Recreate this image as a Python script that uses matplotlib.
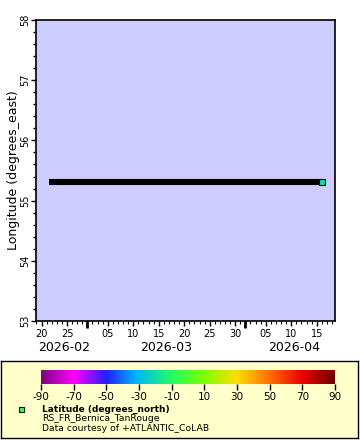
import matplotlib
matplotlib.use("Agg")
import matplotlib.pyplot as plt
import matplotlib.dates as mdates
import numpy as np
import pandas as pd
from matplotlib.colors import LinearSegmentedColormap, Normalize
from matplotlib.patches import Rectangle

plt.rcParams["axes.unicode_minus"] = False

# ---- data ----
track_times = pd.to_datetime(["2026-02-21 10:00", "2026-04-16 00:00"])
track_lon = [55.31, 55.31]
last_time = pd.to_datetime("2026-04-16 00:00")
last_lon = 55.31
last_lat = -21.0

xlim = pd.to_datetime(["2026-02-18 22:00", "2026-04-18 14:00"])
ylim = (53, 58)
month_labels = ["2026-02", "2026-03", "2026-04"]
month_label_pos = pd.to_datetime(["2026-02-24 12:00", "2026-03-16 12:00", "2026-04-10 12:00"])
cbar_ticks = [-90, -70, -50, -30, -10, 10, 30, 50, 70, 90]

cmap_stops = [(-90, "#800080"), (-70, "#ff00ff"), (-50, "#2020ff"), (-32, "#00b4ff"),
              (-10, "#20ff60"), (10, "#80ff00"), (30, "#ffdd00"), (50, "#ff7000"),
              (70, "#ee0000"), (90, "#700000")]

cmap = LinearSegmentedColormap.from_list(
    "lat", [((v + 90) / 180, c) for v, c in cmap_stops])
norm = Normalize(-90, 90)

W, H = 360, 440
fig = plt.figure(figsize=(W / 100, H / 100), dpi=100)
fig.patch.set_facecolor("white")

def fr(x0, y0, x1, y1):
    return [x0 / W, 1 - y1 / H, (x1 - x0) / W, (y1 - y0) / H]

ax = fig.add_axes(fr(36, 20, 335, 321))
ax.set_facecolor("#ccccff")
ax.plot(track_times, track_lon, color="black", lw=4.4, solid_capstyle="butt", zorder=2)
ax.plot([last_time], [last_lon], marker="s", ms=4.5, mec="black", mew=0.8,
        color=cmap(norm(last_lat)), ls="none", zorder=3)
ax.set_xlim(xlim)
ax.set_ylim(*ylim)

for s in ax.spines.values():
    s.set_linewidth(1.2)

# y ticks
ax.set_yticks(np.arange(53, 58.01, 1))
ax.yaxis.set_minor_locator(matplotlib.ticker.MultipleLocator(0.2))
ax.tick_params(axis="y", which="major", length=3.5, width=1, labelsize=7, pad=0.5)
ax.tick_params(axis="y", which="minor", length=2.5, width=1)
for lab in ax.get_yticklabels():
    lab.set_rotation(90)
    lab.set_va("center")
ax.set_ylabel("Longitude (degrees_east)", fontsize=9, labelpad=0)

# x ticks
ax.xaxis.set_major_locator(mdates.DayLocator(bymonthday=[5, 10, 15, 20, 25, 30]))
ax.xaxis.set_major_formatter(mdates.DateFormatter("%d"))
ax.xaxis.set_minor_locator(mdates.DayLocator())
ax.tick_params(axis="x", which="major", length=3.5, width=1, labelsize=7, pad=2)
ax.tick_params(axis="x", which="minor", length=2.5, width=0.8)
for m in pd.to_datetime(["2026-03-01", "2026-04-01"]):
    ax.plot([m, m], [0, -0.022], transform=ax.get_xaxis_transform(), color="black",
            lw=2, clip_on=False, solid_capstyle="butt")
for t, lab in zip(month_label_pos, month_labels):
    ax.text(t, -0.068, lab, transform=ax.get_xaxis_transform(), ha="center", va="top",
            fontsize=9)

# legend box (background axes)
bg = fig.add_axes(fr(1, 361, 358, 438), zorder=0)
bg.set_facecolor("#ffffcc")
bg.set_xticks([]); bg.set_yticks([])
for s in bg.spines.values():
    s.set_linewidth(1)

cax = fig.add_axes(fr(41, 370, 335, 384), zorder=2)
grad = np.linspace(-90, 90, 512).reshape(1, -1)
cax.imshow(grad, aspect="auto", cmap=cmap, norm=norm, extent=[-90, 90, 0, 1])
cax.set_xlim(-90, 90)
cax.set_yticks([])
cax.set_xticks(cbar_ticks)
cax.tick_params(axis="x", length=4, width=1, labelsize=7.5, pad=2)
for s in cax.spines.values():
    s.set_visible(False)

fig.patches.append(Rectangle((19 / W, 1 - 412 / H), 5 / W, 5 / H, transform=fig.transFigure,
                             facecolor="#40ff40", edgecolor="black", lw=0.8, zorder=5))
fig.text(42 / W, 1 - 409 / H, "Latitude (degrees_north)", fontsize=6.5, fontweight="bold",
         va="center", ha="left", zorder=5)
fig.text(42 / W, 1 - 418.5 / H, "RS_FR_Bernica_TanRouge", fontsize=6.7, va="center", ha="left", zorder=5)
fig.text(42 / W, 1 - 428 / H, "Data courtesy of +ATLANTIC_CoLAB", fontsize=6.7, va="center", ha="left", zorder=5)

fig.savefig("out.png", dpi=100)
